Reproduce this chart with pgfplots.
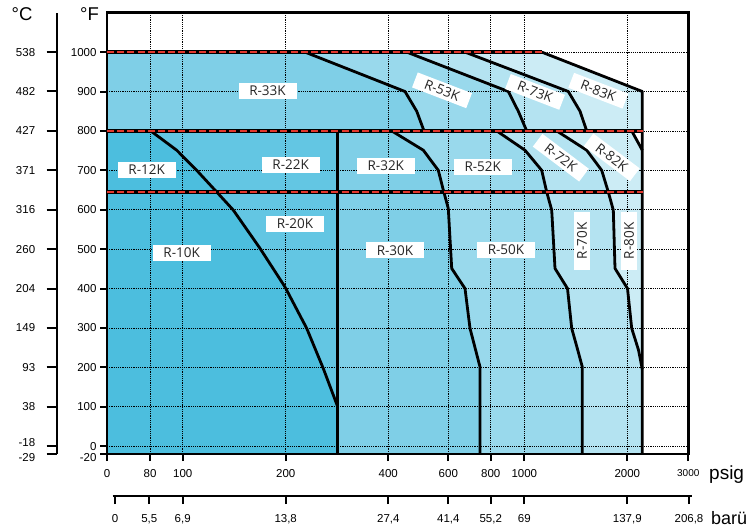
\documentclass[border=0pt]{standalone}
\usepackage{pgfplots}
\pgfplotsset{compat=1.18}
\usepackage{fontspec}
\setmainfont{Liberation Sans}
\newfontfamily\lab{Open Sans}
\definecolor{cA}{HTML}{4CBEDE}
\definecolor{cB}{HTML}{63C6E3}
\definecolor{cC}{HTML}{7FCFE7}
\definecolor{cD}{HTML}{99D9EC}
\definecolor{cE}{HTML}{B4E3F1}
\definecolor{cF}{HTML}{CCECF5}
\definecolor{rd}{HTML}{E2372D}
\begin{document}
\begin{tikzpicture}
\tikzset{
  blk/.style={black, line width=2.8pt, line join=round},
  lbl/.style={fill=white, font=\lab\fontsize{13.5}{15}\selectfont, text=black!85, minimum width=58pt, minimum height=16pt, inner sep=0pt},
}
% ---------------- main axis ----------------
\begin{axis}[
  at={(107pt,-454pt)}, anchor=south west,
  scale only axis, width=581.3pt, height=441.3pt,
  xmin=107, xmax=688.3, ymin=-20, ymax=1100,
  clip=false, set layers,
  axis line style={line width=2.4pt, black},
  tick align=outside, tick pos=left,
  major tick length=7pt,
  major tick style={line width=2pt, black},
  xtick={107,150,182.7,285.7,388.3,448.3,490.7,524.3,627.3,688.3},
  xticklabels={0,80,100,200,400,600,800,1000,2000,{\raisebox{-3pt}{\fontsize{10}{12}\selectfont 3000}}},
  xticklabel style={yshift=-5pt},
  ytick={-20,0,100,200,300,400,500,600,700,800,900,1000},
  yticklabels={{\smash{\raisebox{-7pt}{-20}}},0,100,200,300,400,500,600,700,800,900,1000},
  grid=major,
  grid style={black, line width=0.75pt, dash pattern=on 1.2pt off 1pt},
  tick label style={font=\fontsize{11.5}{13}\selectfont},
]
% ---- top band fills (800-1000 F)
\addplot[fill=cF, draw=none, on layer=axis background] coordinates {(107,1000)(541.7,1000)(642.3,900)(642.3,800)(107,800)} -- cycle;
\addplot[fill=cE, draw=none, on layer=axis background] coordinates {(107,1000)(465,1000)(568.3,900)(580,850)(586.7,800)(107,800)} -- cycle;
\addplot[fill=cD, draw=none, on layer=axis background] coordinates {(107,1000)(406.7,1000)(508.3,900)(518.3,850)(526.7,800)(107,800)} -- cycle;
\addplot[fill=cC, draw=none, on layer=axis background] coordinates {(107,1000)(305,1000)(405,900)(416.7,850)(424,800)(107,800)} -- cycle;
% ---- lower band fills (-20-800 F)
\addplot[fill=cF, draw=none, on layer=axis background] coordinates {(107,-20)(107,800)(631.7,800)(642.3,751)(642.3,-20)} -- cycle;
\addplot[fill=cE, draw=none, on layer=axis background] coordinates {(107,-20)(107,800)(556.7,800)(586.7,751)(601.7,700)(608.3,645)(613.3,599)(615,451)(627.5,400)(631.7,299)(638.5,244)(642.3,195)(642.3,-20)} -- cycle;
\addplot[fill=cD, draw=none, on layer=axis background] coordinates {(107,-20)(107,800)(496.7,800)(525,751)(541.7,700)(546.7,645)(551.7,599)(555,451)(567.5,400)(571.7,299)(577.3,248)(582.3,201)(582.3,-20)} -- cycle;
\addplot[fill=cC, draw=none, on layer=axis background] coordinates {(107,-20)(107,800)(391.7,800)(423.3,751)(438.3,700)(443.3,650)(448.3,603)(451.7,451)(465,400)(470,299)(480,201)(480,-20)} -- cycle;
\addplot[fill=cB, draw=none, on layer=axis background] coordinates {(107,-20)(107,800)(337.7,800)(337.7,-20)} -- cycle;
\addplot[fill=cA, draw=none, on layer=axis background] coordinates {(107,-20)(107,800)(150.7,800)(176.7,751)(196.7,700)(216.7,645)(233.3,599)(260,502)(285,404)(306.7,299)(323.3,197)(337.7,100)(337.7,-20)} -- cycle;
% ---- boundary lines
\addplot[blk] coordinates {(150.7,800)(176.7,751)(196.7,700)(216.7,645)(233.3,599)(260,502)(285,404)(306.7,299)(323.3,197)(337.7,100)};
\addplot[blk] coordinates {(337.7,800)(337.7,-20)};
\addplot[blk] coordinates {(391.7,800)(423.3,751)(438.3,700)(443.3,650)(448.3,603)(451.7,451)(465,400)(470,299)(480,201)(480,-20)};
\addplot[blk] coordinates {(496.7,800)(525,751)(541.7,700)(546.7,645)(551.7,599)(555,451)(567.5,400)(571.7,299)(577.3,248)(582.3,201)(582.3,-20)};
\addplot[blk] coordinates {(556.7,800)(586.7,751)(601.7,700)(608.3,645)(613.3,599)(615,451)(627.5,400)(631.7,299)(638.5,244)(642.3,195)};
\addplot[blk] coordinates {(541.7,1000)(642.3,900)(642.3,-20)};
\addplot[blk] coordinates {(631.7,800)(642.3,751)};
\addplot[blk] coordinates {(305,1000)(405,900)(416.7,850)(424,800)};
\addplot[blk] coordinates {(406.7,1000)(508.3,900)(518.3,850)(526.7,800)};
\addplot[blk] coordinates {(465,1000)(568.3,900)(580,850)(586.7,800)};
% ---- red dashed limit lines
\addplot[black, line width=3.2pt] coordinates {(107,1000)(541.7,1000)};
\addplot[rd, line width=2.2pt, dash pattern=on 7pt off 3.2pt] coordinates {(107,1000)(541.7,1000)};
\addplot[black, line width=3.2pt] coordinates {(107,800)(643.3,800)};
\addplot[rd, line width=2.2pt, dash pattern=on 7pt off 3.2pt] coordinates {(107,800)(643.3,800)};
\addplot[black, line width=3.2pt] coordinates {(107,645)(643.3,645)};
\addplot[rd, line width=2.2pt, dash pattern=on 7pt off 3.2pt] coordinates {(107,645)(643.3,645)};
% ---- region labels
\node[lbl] at (axis cs:267.5,902) {R-33K};
\node[lbl, rotate=-21] at (axis cs:442,903) {R-53K};
\node[lbl, rotate=-21] at (axis cs:535,899) {R-73K};
\node[lbl, rotate=-21] at (axis cs:598.3,902) {R-83K};
\node[lbl] at (axis cs:146.7,702) {R-12K};
\node[lbl] at (axis cs:290.7,714) {R-22K};
\node[lbl] at (axis cs:385.8,711) {R-32K};
\node[lbl] at (axis cs:482.7,708) {R-52K};
\node[lbl, rotate=-37] at (axis cs:560.8,732) {R-72K};
\node[lbl, rotate=-37] at (axis cs:611.7,733) {R-82K};
\node[lbl] at (axis cs:181.7,491) {R-10K};
\node[lbl] at (axis cs:295,564) {R-20K};
\node[lbl] at (axis cs:395,497) {R-30K};
\node[lbl] at (axis cs:506,498) {R-50K};
\node[lbl, rotate=90] at (axis cs:582,521) {R-70K};
\node[lbl, rotate=90] at (axis cs:629,521) {R-80K};
\end{axis}
% ---------------- deg C axis ----------------
\begin{axis}[
  at={(56.7pt,-454pt)}, anchor=south west,
  scale only axis, width=20pt, height=441.3pt,
  xmin=0, xmax=1, ymin=-20, ymax=1100,
  axis x line=none, axis y line*=left,
  axis line style={line width=2.2pt, black},
  tick align=outside, major tick length=10pt,
  major tick style={line width=2pt, black},
  ytick={-20,0,100,200,300,400,500,600,700,800,900,1000},
  yticklabels={{\smash{\raisebox{-7.5pt}{-29}}},{\smash{\raisebox{-0.5pt}{-18}}},38,93,149,204,260,316,371,427,482,538},
  yticklabel style={xshift=-8pt},
  tick label style={font=\fontsize{11.5}{13}\selectfont},
]
\end{axis}
% ---------------- bar axis ----------------
\begin{axis}[
  at={(112.7pt,-496pt)}, anchor=south west,
  scale only axis, width=579.3pt, height=10pt,
  xmin=112.7, xmax=692, ymin=0, ymax=1,
  axis y line=none, axis x line*=bottom,
  axis line style={line width=2.2pt, black},
  tick align=outside, major tick length=8pt,
  major tick style={line width=2pt, black},
  xtick={115,149.3,182.7,285.7,388.3,448.3,490.7,524.3,627.3,689},
  xticklabels={0,{5,5},{6,9},{13,8},{27,4},{41,4},{55,2},69,{137,9},{206,8}},
  xticklabel style={yshift=-7pt},
  tick label style={font=\fontsize{11.5}{13}\selectfont},
]
\end{axis}
% ---------------- unit labels ----------------
\node[anchor=west, font=\fontsize{19}{21}\selectfont, inner sep=0pt] at (709pt,-475pt) {psig};
\node[anchor=west, font=\fontsize{18}{20}\selectfont, inner sep=0pt] at (711pt,-518pt) {barü};
\node[font=\fontsize{18.5}{20}\selectfont, inner sep=0pt] at (22pt,-14pt) {°C};
\node[font=\fontsize{18.5}{20}\selectfont, inner sep=0pt] at (89.5pt,-14pt) {°F};
\pgfresetboundingbox
\useasboundingbox (0,0) rectangle (749pt,-529pt);
\end{tikzpicture}
\end{document}
